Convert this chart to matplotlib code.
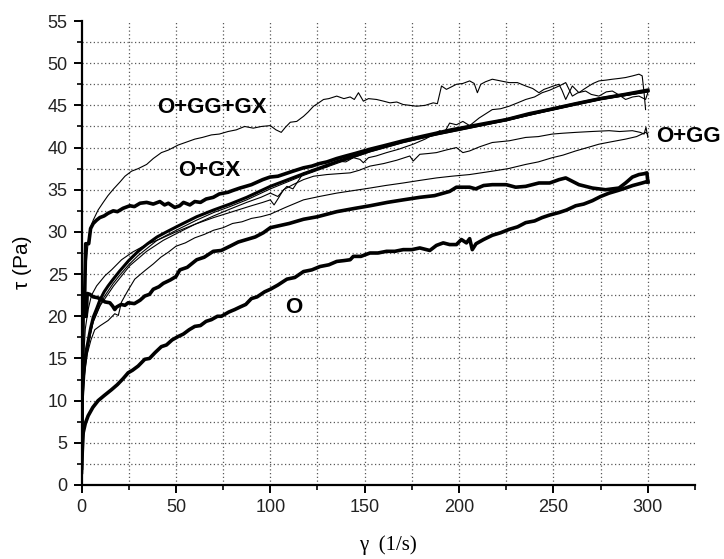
import matplotlib
matplotlib.use("Agg")
import matplotlib.pyplot as plt
from matplotlib.ticker import MultipleLocator, FixedLocator

# ---------------- data ----------------
# O+GG+GX (thin)
ogggx_x = [0, 0.6, 1.2, 2, 3.5, 5, 6.2, 8.8, 11.5, 14, 17, 20.3, 23, 26.5, 30, 34.5, 38, 42.3, 46, 51.2,
           55, 60, 64, 68.8, 73, 77.6, 82, 86.4, 91, 95.3, 100, 103, 105.8, 108, 110.6, 114, 117.6, 120,
           122.9, 125, 128.2, 131, 135.2, 139, 142.3, 144.5, 146.7, 149.3, 152, 156.3, 160, 163.4, 167,
           170.4, 174, 177.5, 182, 186.3, 188.5, 190.7, 193.3, 196, 198.6, 202, 205.6, 208, 209.7, 211.5,
           214, 217.6, 222, 226.5, 230.9, 235.3, 239, 242.3, 245, 247.6, 250, 252.9, 254.5, 256.5, 260,
           263.5, 266, 268.8, 271, 274.1, 278, 281.2, 285, 288.2, 292, 295.3, 297, 298, 298.8]
ogggx_y = [3, 15, 21, 25, 28.8, 30.6, 31.4, 32.6, 33.5, 34.3, 35.1, 35.9, 36.6, 37.2, 37.5, 38.0, 38.7, 39.4,
           39.7, 40.3, 40.6, 41.0, 41.2, 41.5, 41.6, 41.9, 42.1, 42.5, 42.3, 42.5, 42.6, 42.1, 41.8, 42.4,
           43.0, 43.1, 43.7, 44.2, 44.9, 45.2, 45.7, 45.8, 46.1, 45.8, 46.0, 45.7, 46.5, 45.5, 45.8, 45.7,
           45.5, 45.3, 45.4, 45.1, 45.0, 44.9, 45.0, 45.3, 45.2, 47.3, 46.9, 47.2, 47.5, 47.6, 47.9, 47.6,
           46.5, 47.5, 47.8, 48.1, 47.9, 47.7, 47.7, 47.3, 47.0, 46.5, 46.9, 47.1, 47.3, 47.5, 46.8, 45.7,
           47.3, 46.5, 46.9, 47.3, 47.6, 47.9, 48.0, 48.1, 48.2, 48.3, 48.5, 48.7, 48.5, 46.5, 44.5]

# O+GX (thick, with plateau)
ogx_x = [0, 0.6, 1.5, 2.2, 3.8, 4.8, 6.2, 8, 9.7, 12, 14, 16.8, 19, 22, 25.6, 28, 31, 34.5, 38, 41.5,
         44, 46, 49.4, 52, 54, 57.4, 60, 63, 66, 69.8, 73, 77.6, 80, 83.9, 87, 90, 93, 96, 99.8, 104,
         108, 112, 117.6, 122, 126, 130, 135.2, 140, 145, 152.8, 160, 170.4, 180, 188, 196, 205.6, 215,
         225, 237, 250, 262, 275, 288, 300]
ogx_y = [2, 20, 20.5, 28.6, 28.6, 30.4, 31.0, 31.4, 31.7, 31.9, 32.2, 32.5, 32.4, 32.8, 33.1, 33.0, 33.4,
         33.5, 33.3, 33.6, 33.2, 33.4, 32.9, 33.1, 33.5, 33.2, 33.6, 33.5, 33.9, 34.1, 34.5, 34.7, 34.9,
         35.2, 35.4, 35.6, 35.9, 36.2, 36.5, 36.6, 36.9, 37.2, 37.6, 37.8, 38.1, 38.3, 38.7, 39.0, 39.3,
         39.8, 40.2, 40.8, 41.3, 41.7, 42.1, 42.5, 42.9, 43.3, 44.0, 44.6, 45.2, 45.8, 46.3, 46.8]

# smooth thick curve and its thin twin
smooth_x = [0, 0.5, 1, 1.8, 2.6, 3.5, 4.8, 6.2, 8, 9.7, 12, 14.1, 16.8, 20, 25, 30, 35, 40, 45, 52,
            61, 70, 78.6, 87.5, 100, 117.6, 135, 152.8, 170.4, 188, 205.6, 225, 250, 275, 300]
smooth_y = [3, 11, 13.2, 15, 16.1, 17.1, 18.6, 19.9, 20.9, 21.9, 22.9, 23.6, 24.4, 25.3, 26.6, 27.7, 28.6,
            29.4, 30.0, 30.8, 31.8, 32.6, 33.3, 34.1, 35.4, 36.9, 38.3, 39.6, 40.7, 41.6, 42.4, 43.3,
            44.6, 45.8, 46.7]
twin_y = [3, 10, 12.6, 14.4, 15.5, 16.5, 18.0, 19.3, 20.3, 21.3, 22.3, 23.0, 23.9, 24.8, 26.1, 27.2, 28.1,
          29.0, 29.6, 30.4, 31.4, 32.3, 33.0, 33.8, 35.1, 36.7, 38.1, 39.5, 40.6, 41.5, 42.3, 43.2, 44.5,
          45.7, 46.6]

# thin replicate rising above the smooth curve at high shear rate
rep1_x = [0, 0.6, 2, 4, 6.2, 10, 17, 25.6, 34.5, 43.3, 52, 61, 70, 78.6, 87.5, 95, 100, 104, 108.8, 112,
          117.6, 122, 126.4, 130, 135.2, 140, 144, 147.5, 149.3, 152, 156, 161.6, 168, 175.7, 182, 186,
          189.8, 192, 195, 198.6, 202, 205.6, 210.6, 217.6, 222, 226.5, 231, 235.3, 240, 244, 248, 253,
          256.5, 260, 263, 267, 270, 274.1, 278, 281.2, 285, 288.2, 292, 295.3, 298.8, 300]
rep1_y = [3, 9, 14, 17, 19.4, 21.3, 23.6, 26.0, 27.7, 29.0, 30.0, 31.0, 31.9, 32.7, 33.5, 34.1, 34.6, 34.2,
          35.4, 35.1, 37.0, 37.1, 37.6, 37.7, 38.4, 38.3, 38.8, 38.6, 38.2, 38.8, 39.0, 39.4, 39.8, 40.4,
          41.0, 41.5, 42.0, 41.7, 42.9, 42.7, 43.1, 42.6, 43.5, 44.5, 44.6, 44.9, 45.3, 45.7, 46.0, 46.5,
          46.8, 47.3, 47.7, 46.1, 46.5, 46.7, 46.3, 46.1, 46.6, 46.7, 46.2, 45.7, 46.0, 46.1, 45.7, 46.5]

# O+GG thin replicates
ogg1_x = [0, 0.8, 2, 3.5, 5.3, 8, 12.4, 15.9, 21.2, 27, 33.5, 42, 50, 60, 70, 80, 90, 96, 100, 102,
          104, 107, 112, 117.6, 122.9, 130, 136, 142.3, 147, 152.8, 160, 167, 173.9, 175.7, 179.2, 184,
          188, 193, 198.6, 202, 205.6, 211, 217.6, 226.5, 235.3, 242, 249.4, 255, 261.8, 270, 279.5,
          285, 291.8, 296, 298, 299, 300]
ogg1_y = [4, 14, 18.5, 20.8, 22.5, 23.6, 24.8, 25.5, 26.7, 27.6, 28.4, 29.2, 30.0, 30.9, 31.7, 32.4, 33.1,
          33.5, 33.8, 33.2, 33.9, 35.0, 35.6, 36.2, 36.6, 36.8, 36.9, 37.0, 37.3, 37.8, 38.1, 38.5, 39.0,
          38.4, 39.2, 39.3, 39.4, 39.7, 40.0, 39.4, 39.6, 40.1, 40.6, 40.8, 41.2, 41.3, 41.6, 41.7, 41.8,
          41.9, 42.0, 41.9, 42.0, 41.8, 41.6, 42.4, 41.2]

ogg2_x = [0, 1, 3, 5, 7, 10, 14.1, 17.6, 19.5, 21.2, 24.7, 28.2, 33.5, 38, 42, 46, 50, 55, 60, 65, 70,
          75, 80, 85, 90, 95, 100, 108, 117.6, 126, 135.2, 144, 152.8, 161, 170.4, 179, 188, 196, 205.6,
          217.6, 226, 235.3, 242, 249.4, 255, 261.8, 268, 274.1, 281, 288.2, 294, 298.8, 300]
ogg2_y = [3, 12, 15.5, 17.2, 18.4, 18.9, 19.5, 20.3, 20.1, 21.7, 23.1, 24.4, 25.4, 26.2, 27.0, 27.6, 28.3,
          28.7, 29.3, 29.7, 30.2, 30.5, 31.0, 31.2, 31.6, 31.8, 32.1, 32.9, 33.8, 34.2, 34.6, 34.9, 35.2,
          35.5, 35.8, 36.1, 36.4, 36.6, 36.8, 37.2, 37.5, 38.0, 38.3, 38.8, 39.1, 39.6, 40.0, 40.4, 40.7,
          41.0, 41.3, 41.8, 41.6]

# O+GG thick
oggt_x = [0, 0.8, 2.5, 3, 4.4, 6.2, 8.5, 10.6, 12.4, 15, 16.5, 17.6, 18.6, 21, 23, 24.7, 28, 31, 33.5,
          36, 38, 41, 43.3, 47, 50, 52.1, 56, 61, 65, 69.8, 74, 78.6, 83, 87.5, 92, 96.3, 100, 104, 110,
          117.6, 125, 135.2, 145, 152.8, 162, 170.4, 179.2, 187, 195, 198.6, 205.6, 208.8, 213, 217.6,
          225, 230, 235.3, 242.3, 248, 253, 256.5, 260, 263.5, 270.6, 277.6, 284.7, 288.2, 291.8, 295.3,
          298, 299.5, 300]
oggt_y = [4, 20, 20, 22.7, 22.6, 22.3, 22.2, 22.0, 21.7, 21.6, 21.2, 20.8, 21.1, 21.4, 21.3, 21.6, 21.5,
          21.9, 22.4, 22.6, 23.2, 23.5, 23.9, 24.3, 24.7, 25.5, 25.8, 26.7, 27.0, 27.7, 27.8, 28.3, 28.8,
          29.1, 29.4, 29.9, 30.5, 30.7, 31.0, 31.5, 31.8, 32.4, 32.8, 33.1, 33.5, 33.8, 34.1, 34.3, 34.8,
          35.3, 35.3, 35.1, 35.5, 35.6, 35.6, 35.3, 35.4, 35.8, 35.8, 36.2, 36.4, 36.0, 35.6, 35.2, 35.0,
          35.2, 35.8, 36.5, 36.8, 36.9, 37.0, 35.9]

# O (thick)
o_x = [0, 0.4, 0.9, 2, 3.5, 6, 8.8, 12, 15.9, 19, 22, 24.7, 27, 30, 33.5, 36, 39, 42.3, 45, 48, 51.2, 54,
       57, 60, 63, 66, 68.8, 72, 74.1, 78, 81.2, 84, 87, 90, 93, 97, 100, 104, 108.8, 113, 117.6, 122,
       126.4, 131, 135.2, 139, 142.3, 144, 148, 152.8, 157, 161.6, 166, 170.4, 175, 179.2, 184.5, 188,
       191.6, 195, 198.6, 201.2, 203.9, 205.6, 207, 209, 213, 217.6, 222, 226.5, 231, 235.3, 240, 244,
       248, 253, 257, 261.8, 266, 270.6, 275, 279.5, 284, 288.2, 292, 297, 300]
o_y = [1.5, 4.0, 6.2, 7.3, 8.2, 9.2, 10.0, 10.6, 11.3, 11.9, 12.6, 13.3, 13.6, 14.1, 14.9, 15.0, 15.7, 16.4,
       16.6, 17.2, 17.6, 17.9, 18.4, 18.8, 18.9, 19.4, 19.6, 20.0, 20.0, 20.5, 20.8, 21.1, 21.4, 22.1,
       22.3, 22.9, 23.2, 23.7, 24.4, 24.6, 25.3, 25.5, 25.9, 26.1, 26.5, 26.6, 26.7, 27.1, 27.1, 27.5,
       27.5, 27.7, 27.7, 27.9, 27.9, 28.1, 27.8, 28.4, 28.7, 28.5, 28.5, 29.1, 28.7, 29.2, 27.9, 28.6,
       29.1, 29.6, 29.9, 30.3, 30.6, 31.1, 31.3, 31.7, 32.0, 32.3, 32.6, 33.1, 33.3, 33.7, 34.2, 34.6,
       34.9, 35.2, 35.5, 35.8, 36.0]

x_major = [0, 50, 100, 150, 200, 250, 300]
x_minor = [25, 75, 125, 175, 225, 275, 325]
y_major = [0, 5, 10, 15, 20, 25, 30, 35, 40, 45, 50, 55]
y_minor = [2.5, 7.5, 12.5, 17.5, 22.5, 27.5, 32.5, 37.5, 42.5, 47.5, 52.5]

labels = ["O+GG+GX", "O+GX", "O+GG", "O"]

# ---------------- figure ----------------
SANS = "Liberation Sans"
fig = plt.figure(figsize=(7.24, 5.59), dpi=100)
ax = fig.add_axes([0.1126, 0.1324, 0.8474, 0.8300])
ax.set_xlim(0, 325)
ax.set_ylim(0, 55)

# dotted grid at every 25 (x) and 2.5 (y), not on the frame edges
grid_kw = dict(color="0.35", lw=0.9, ls=(0, (1, 2)), zorder=1)
for gx in x_major[1:] + x_minor[:-1]:
    ax.axvline(gx, **grid_kw)
for gy in y_major[1:-1] + y_minor:
    ax.axhline(gy, **grid_kw)

thin = dict(color="black", lw=0.8, zorder=3)
thick = dict(color="black", lw=2.6, zorder=4, solid_joinstyle="round")

ax.plot(ogggx_x, ogggx_y, **thin)
ax.plot(rep1_x, rep1_y, **thin)
ax.plot(ogg1_x, ogg1_y, **thin)
ax.plot(ogg2_x, ogg2_y, **thin)
ax.plot(smooth_x, twin_y, **thin)
ax.plot(smooth_x, smooth_y, color="black", lw=2.2, zorder=4)
ax.plot(ogx_x, ogx_y, **thick)
ax.plot(oggt_x, oggt_y, **thick)
ax.plot(o_x, o_y, **thick)

lab_kw = dict(fontsize=16, fontweight="bold", family=SANS, va="center", zorder=6)
ax.text(69.2, 44.8, labels[0], ha="center", **lab_kw)
ax.text(67.7, 37.3, labels[1], ha="center", **lab_kw)
ax.text(304.5, 41.3, labels[2], ha="left", clip_on=False, **lab_kw)
ax.text(112.6, 21.0, labels[3], ha="center", **lab_kw)

for s in ("top", "right"):
    ax.spines[s].set_visible(False)
for s in ("left", "bottom"):
    ax.spines[s].set_linewidth(1.6)

ax.xaxis.set_major_locator(FixedLocator(x_major))
ax.xaxis.set_minor_locator(FixedLocator(x_minor))
ax.yaxis.set_major_locator(FixedLocator(y_major))
ax.yaxis.set_minor_locator(FixedLocator(y_minor))
ax.tick_params(which="major", direction="out", length=6, width=1.4, labelsize=13, pad=4)
ax.tick_params(which="minor", direction="out", length=3.5, width=1.2)
for lab in ax.get_xticklabels() + ax.get_yticklabels():
    lab.set_family(SANS)
    lab.set_color("#222222")

fig.text(388 / 724, 1 - 545 / 559, "\u03b3  (1/s)", family="Liberation Serif", fontsize=15,
         ha="center", va="center")
fig.text(22 / 724, 1 - 262 / 559, "\u03c4 (Pa)", family=SANS, fontsize=15, rotation=90,
         ha="center", va="center")

fig.savefig("out.png", dpi=100)
